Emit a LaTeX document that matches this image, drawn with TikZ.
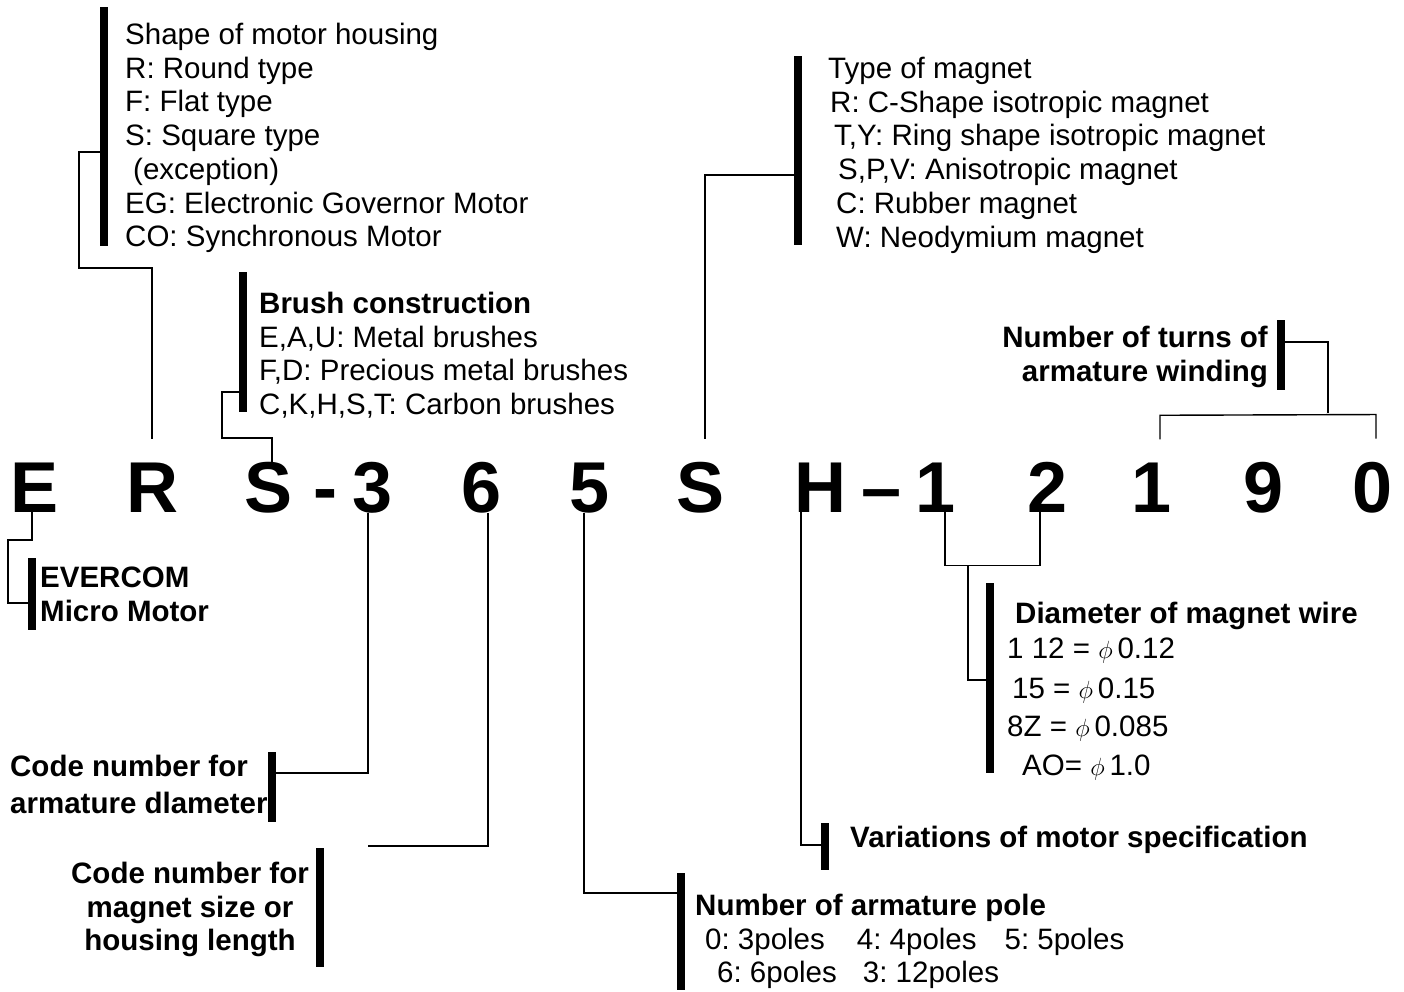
\documentclass[tikz,border=0pt]{standalone}
\usepackage{fontspec}
\setmainfont{Liberation Sans}
\usetikzlibrary{calc}
\frenchspacing
\begin{document}
\begin{tikzpicture}[x=1pt,y=-1pt,
  wire/.style={line width=1.4pt, line join=miter},
  bar/.style={fill=black, draw=none, inner sep=0pt, minimum width=7.5pt},
  code/.style={inner sep=0pt, anchor=base, font=\fontsize{72}{72}\selectfont\bfseries},
  txt/.style={inner sep=0pt, anchor=north west, align=left, font=\fontsize{29.5}{33.7}\selectfont},
  btxt/.style={txt, font=\fontsize{29.5}{33.7}\selectfont\bfseries}]
\useasboundingbox[fill=white] (0,0) rectangle (1404,992);

% ---- the type code ----
\node[code] (e1)  at (35,512)   {E};
\node[code] (r1)  at (152,512)  {R};
\node[code] (s1)  at (269,512)  {S};
\node[code] (hy1) at (325,512)  {-};
\node[code] (d3)  at (373,512)  {3};
\node[code] (d6)  at (482,512)  {6};
\node[code] (d5)  at (590,512)  {5};
\node[code] (s2)  at (701,512)  {S};
\node[code] (h1)  at (820,512)  {H};
\node[code] (hy2) at (882,512)  {--};
\node[code] (d1)  at (936,512)  {1};
\node[code] (d2)  at (1048,512) {2};
\node[code] (d1b) at (1152,512) {1};
\node[code] (d9)  at (1264,512) {9};
\node[code] (d0)  at (1372,512) {0};

% ---- marker bars ----
\node[bar, minimum height=239pt] (bh) at (104,126.5) {};
\node[bar, minimum height=140pt] (bb) at (243,342) {};
\node[bar, minimum height=189pt] (bm) at (798,150.5) {};
\node[bar, minimum height=70pt]  (bt) at (1281,355) {};
\node[bar, minimum height=72pt]  (be) at (32,594) {};
\node[bar, minimum height=70pt]  (ba) at (272,787) {};
\node[bar, minimum height=119pt] (bs) at (320,907.5) {};
\node[bar, minimum height=117pt] (bp) at (681,931.5) {};
\node[bar, minimum height=47pt]  (bv) at (825,846.5) {};
\node[bar, minimum height=190pt] (bd) at (990,678) {};

% ---- descriptions ----
\node[txt] (th) at (125,23) {Shape of motor housing\\
R: Round type\\
F: Flat type\\
S: Square type\\
\hspace*{8pt}(exception)\\
EG: Electronic Governor Motor\\
CO: Synchronous Motor};

\node[txt] (tb) at (259,292) {\textbf{Brush construction}\\
E,A,U: Metal brushes\\
F,D: Precious metal brushes\\
C,K,H,S,T: Carbon brushes};

\node[txt] (tm) at (828,57) {Type of magnet\\
\hspace*{2pt}R: C-Shape isotropic magnet\\
\hspace*{6pt}T,Y: Ring shape isotropic magnet\\
\hspace*{10pt}S,P,V: Anisotropic magnet\\
\hspace*{8pt}C: Rubber magnet\\
\hspace*{8pt}W: Neodymium magnet};

\node[btxt, anchor=north east, align=right] (tt) at (1268,326) {Number of turns of\\armature winding};

\node[btxt] (te) at (40,567) {EVERCOM\\Micro Motor};

\node[btxt] (ta) at (10,755) {Code number for\\[3.3pt]armature dlameter};

\node[btxt, anchor=north, align=center] (ts) at (190,862) {Code number for\\magnet size or\\housing length};

\node[txt] (tp) at (695,894) {\textbf{Number of armature pole}\\
\hspace*{10pt}0: 3poles\hspace{32pt}4: 4poles\hspace{28pt}5: 5poles\\
\hspace*{22pt}6: 6poles\hspace{26pt}3: 12poles};

\node[btxt] (tv) at (850,826) {Variations of motor specification};

\node[txt] (td) at (1007,602) {\hspace*{8pt}\textbf{Diameter of magnet wire}\\[1.3pt]
1 12 = $\phi$\,0.12\\[6.3pt]
\hspace*{5pt}15 = $\phi$\,0.15\\[4.3pt]
8Z = $\phi$\,0.085\\[5.3pt]
\hspace*{15pt}AO= $\phi$\,1.0};

% ---- connectors ----
\coordinate (ms) at (368,846);
\draw[wire] (bh.west |- 0,152) -| (79,268) -| ([yshift=23pt]r1.north);
\draw[wire] (bb.west |- 0,392) -| (222,438) -| ([xshift=3pt]s1.north);
\draw[wire] (bm.west |- 0,175) -| ([xshift=4pt,yshift=23pt]s2.north);
\draw[wire] ([xshift=8pt,yshift=23pt]d1b.north) -- ([xshift=8pt,yshift=47pt]d1b.north)
  -- ([xshift=4pt,yshift=47pt]d0.north) -- ([xshift=4pt,yshift=23pt]d0.north);
\draw[wire] (bt.east |- 0,342) -| (1328,413);
\draw[wire] ([xshift=-3pt]e1.south) |- (8,540) |- (be.west |- 0,603);
\draw[wire] ([xshift=-5pt]d3.south) |- (ba.east |- 0,773);
\draw[wire] ([xshift=6pt]d6.south) |- (ms);
\draw[wire] ([xshift=-6pt]d5.south) |- (bp.west |- 0,893);
\draw[wire] ([xshift=7pt]h1.south west) |- (bv.west |- 0,845);
\draw[wire] ([xshift=9pt]d1.south) -- ([xshift=9pt,yshift=-53pt]d1.south)
  -| ([xshift=-8pt]d2.south);
\draw[wire] (968,565) |- (bd.west |- 0,680);
\end{tikzpicture}
\end{document}
